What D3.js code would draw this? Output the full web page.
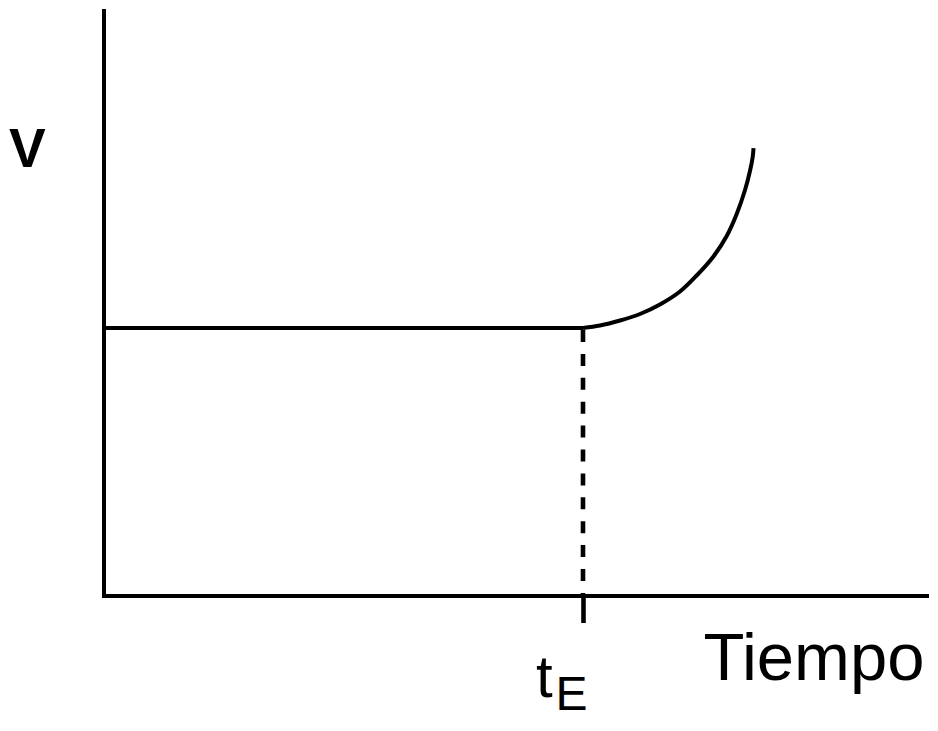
<!DOCTYPE html>
<html>
<head>
<meta charset="utf-8">
<script src="https://cdn.jsdelivr.net/npm/d3@7"></script>
<style>
  html, body { margin: 0; padding: 0; background: #fff; }
  svg { display: block; }
  text { font-family: "Liberation Sans", Arial, Helvetica, sans-serif; fill: #000; }
</style>
</head>
<body>
<svg id="chart" width="938" height="731"></svg>
<script>
// ---- data (abstract units: time 0..100, V 0..100) ----
const xDomain = [0, 100];
const yDomain = [0, 100];
const tE = 58.06;             // time of the event (dashed marker)
const vBase = 45.66;          // constant level before tE
const flatTimes = [0, 58.06];
const flatValues = [45.66, 45.66];
const curveTimes  = [58.06, 60.12, 62.55, 64.97, 67.39, 69.82, 71.84, 73.85, 75.48, 76.69, 77.70, 78.30, 78.63, 78.73];
const curveValues = [45.66, 46.08, 46.93, 48.04, 49.66, 51.87, 54.60, 57.80, 61.33, 65.08, 69.17, 72.40, 74.79, 76.32];
const yLabel = "V";
const xLabel = "Tiempo";
const tickMain = "t";
const tickSub = "E";

// ---- layout ----
const svg = d3.select("#chart");
const x = d3.scaleLinear().domain(xDomain).range([104, 929]);
const y = d3.scaleLinear().domain(yDomain).range([596, 9]);
const SW = 4;

// dashed vertical marker at tE (from level down to axis)
svg.append("line")
  .attr("x1", x(tE)).attr("x2", x(tE))
  .attr("y1", y(vBase)).attr("y2", y(0))
  .attr("stroke", "#000").attr("stroke-width", 4.6)
  .attr("stroke-dasharray", "12,11.9")
  .attr("stroke-dashoffset", 21.9);

// x axis with single tick at tE
const xAxis = d3.axisBottom(x).tickValues([tE]).tickSize(27).tickSizeOuter(0).tickFormat("");
const gx = svg.append("g").attr("transform", `translate(0,${y(0)})`).call(xAxis);
gx.select(".domain").attr("stroke", "#000").attr("stroke-width", SW)
  .attr("d", `M${x(0) - 2},0H${x(100)}`);
gx.selectAll(".tick line").attr("stroke", "#000").attr("stroke-width", 4.6);

// y axis (no ticks)
const yAxis = d3.axisLeft(y).tickValues([]).tickSizeOuter(0);
const gy = svg.append("g").attr("transform", `translate(${x(0)},0)`).call(yAxis);
gy.select(".domain").attr("stroke", "#000").attr("stroke-width", SW)
  .attr("d", `M0,${y(100)}V${y(0) + 2}`);

// flat segment
const flat = flatTimes.map((t, i) => [t, flatValues[i]]);
svg.append("path")
  .datum(flat)
  .attr("fill", "none").attr("stroke", "#000").attr("stroke-width", SW)
  .attr("d", d3.line().x(d => x(d[0])).y(d => y(d[1])));

// rising curve
const rise = curveTimes.map((t, i) => [t, curveValues[i]]);
svg.append("path")
  .datum(rise)
  .attr("fill", "none").attr("stroke", "#000").attr("stroke-width", SW)
  .attr("d", d3.line().x(d => x(d[0])).y(d => y(d[1])).curve(d3.curveCatmullRom.alpha(0.5)));

// labels
svg.append("text").attr("x", 9).attr("y", 167).attr("font-size", 55).attr("font-weight", "bold").text(yLabel);
svg.append("text").attr("x", 703.5).attr("y", 680).attr("font-size", 67).text(xLabel);
const tl = svg.append("text").attr("x", 536).attr("y", 697).attr("font-size", 60);
tl.append("tspan").text(tickMain);
tl.append("tspan").attr("font-size", 48).attr("x", 555.5).attr("y", 710).text(tickSub);
</script>
</body>
</html>
